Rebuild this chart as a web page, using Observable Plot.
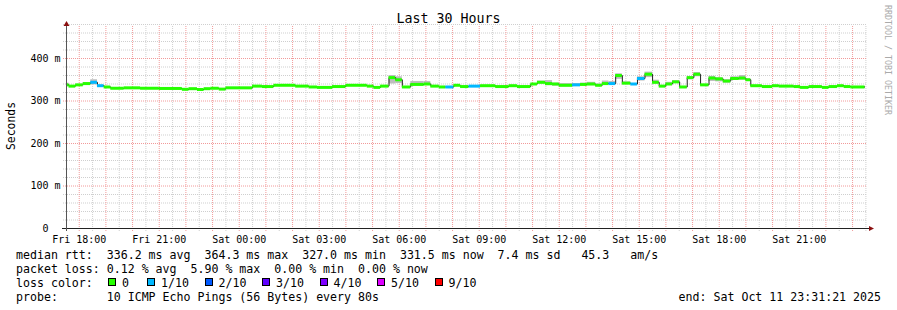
<!DOCTYPE html>
<html><head><meta charset="utf-8">
<script src="https://cdn.jsdelivr.net/npm/d3@7"></script>
<script src="https://cdn.jsdelivr.net/npm/@observablehq/plot@0.6"></script>
<style>
body{margin:0;background:#fff}
#wrap{position:relative;width:897px;height:310px;background:#fff;font-family:"DejaVu Sans Mono",monospace;color:#000;overflow:hidden}
#chart{position:absolute;left:0;top:0}
.t{position:absolute;white-space:pre;line-height:14px;font-size:11.6px}
.box{position:absolute;width:6px;height:6px;border:1px solid #000}
</style></head><body><div id="wrap"><div id="chart"></div></div>
<script>
// ---- text ----
const title = "Last 30 Hours";
const yLabel = "Seconds";
const credit = "RRDTOOL / TOBI OETIKER";
const startTime = "2025-10-10T17:31:21Z";
const endTime = "2025-10-11T23:31:21Z";
const endLabel = "end: Sat Oct 11 23:31:21 2025";
const probeText = "10 ICMP Echo Pings (56 Bytes) every 80s";

// ---- axis ticks ----
const yTicks = [0, 100, 200, 300, 400];
const yMax = 480;

// ---- series: median rtt per step (ms), loss class, smoke range ----
const segStart = [
"10 17:33","10 17:37","10 17:52","10 18:09","10 18:26","10 18:41","10 18:56","10 19:11","10 19:41","10 20:18",
"10 21:00","10 21:52","10 22:07","10 22:26","10 22:41","10 22:56","10 23:15","10 23:30","11 00:30","11 00:52",
"11 01:18","11 02:07","11 02:37","11 02:56","11 03:30","11 04:00","11 04:48","11 05:03","11 05:18","11 05:37",
"11 05:52","11 06:07","11 06:26","11 06:56","11 07:11","11 07:30","11 07:45","11 08:03","11 08:18","11 08:37",
"11 09:03","11 09:37","11 10:07","11 10:26","11 10:56","11 11:11","11 11:29","11 11:45","11 12:00","11 12:30",
"11 12:48","11 13:03","11 13:22","11 13:37","11 13:52","11 14:07","11 14:22","11 14:41","11 14:56","11 15:13",
"11 15:30","11 15:45","11 16:00","11 16:15","11 16:31","11 16:48","11 17:03","11 17:18","11 17:37","11 17:52",
"11 18:09","11 18:26","11 18:45","11 19:00","11 19:11","11 19:37","11 20:00","11 20:15","11 20:48","11 21:03",
"11 21:22","11 21:52","11 22:07","11 22:26","11 22:41","11 22:56"];
const lastEnd = "11 23:28";
const median = [
338,335,338,341,344,336,333,330,331,330,
329.5,327.5,329,327,329,330,328,331,335,334,
337,335,333,332,334,337,335,332,335,355,
350,333,339,340,335,333,333,337,334,335,
336,334,336,334,340,344,341,340,337,338,
339,340,337,341,341,360,342,340,353,363,
344,335,340,345,333,355,363,338,354,352,
347,353,354,350,336,334,336,335,334,332,
334,332,334,336,334,333];
const lossClass = [
0,0,0,0,1,1,0,0,0,0,
0,0,0,0,0,0,0,0,0,0,
0,0,0,0,0,0,0,0,0,0,
0,0,0,0,0,0,1,0,0,1,
0,0,0,0,0,0,0,0,0,1,
0,0,0,0,1,0,0,1,1,0,
0,0,0,0,0,0,0,0,0,0,
0,0,0,0,0,0,0,0,0,0,
0,0,0,0,0,0];
const smokeLo = [
335,null,null,338,338,null,null,null,null,null,
null,null,null,null,null,null,null,null,null,null,
null,null,null,null,null,null,null,null,null,340,
341,null,335,337,null,null,null,null,null,null,
null,null,null,null,null,340,336,335,333,334,
335,336,334,338,338,351,339,null,347,355,
340,null,337,342,null,350,357,null,346,345,
342,349,349,347,null,null,null,null,null,null,
null,null,null,null,null,null];
const smokeHi = [
342,null,null,343,350,null,null,null,null,null,
null,null,null,null,null,null,null,null,null,null,
null,null,null,null,null,null,null,null,null,360,
357,null,346,346,null,null,null,null,null,null,
null,null,null,null,null,347,348,342,341,341,
342,344,340,347,346,364,345,null,357,368,
349,null,344,348,null,357,367,null,358,355,
350,357,360,352,null,null,null,null,null,null,
null,null,null,null,null,null];

// ---- legend ----
const lossNames = ["0","1/10","2/10","3/10","4/10","5/10","9/10"];
const lossColors = ["#26ff00","#00b8ff","#0059ff","#5e00ff","#7e00ff","#dd00ff","#ff0000"];
const rttStats = [336.2, 364.3, 327.0, 331.5];
const statNames = ["avg","max","min","now"];
const rttSd = 7.4;
const amPerS = 45.3;
const lossStats = [0.12, 5.90, 0.00, 0.00];

// ---- build ----
const parse = d3.utcParse("%Y-%m-%d %H:%M");
const T = s => parse("2025-10-" + s);
const t0 = new Date(startTime), t1 = new Date(endTime);
const segs = segStart.map((s, i) => ({
  start: T(s),
  end: T(i + 1 < segStart.length ? segStart[i + 1] : lastEnd),
  median: median[i],
  color: lossColors[lossClass[i]],
  lo: smokeLo[i], hi: smokeHi[i]
}));
const stepPts = segs.map(d => ({t: d.start, v: d.median}))
  .concat([{t: segs[segs.length - 1].end, v: segs[segs.length - 1].median}]);
const hours = d3.utcHour.range(t0, t1);
const halfHours = d3.utcMinute.every(30).range(t0, t1).filter(d => d.getUTCMinutes() === 30);
const minorY = d3.range(20, yMax + 1, 20).filter(v => v % 100 !== 0);
const majorY = yTicks.filter(v => v > 0);
const xTicks = d3.utcHour.every(3).range(t0, t1);
const fmt = d3.utcFormat("%a %H:%M");

const MAJ = "#f29a9a", MIN = "#cfcfcf";
const svg = Plot.plot({
  width: 897, height: 250,
  marginLeft: 66, marginRight: 31, marginTop: 24, marginBottom: 22,
  style: {fontFamily: "DejaVu Sans Mono", fontSize: "10px", background: "transparent", color: "#000"},
  x: {type: "utc", domain: [t0, t1]},
  y: {domain: [0, yMax]},
  marks: [
    Plot.ruleY(minorY, {stroke: MIN, strokeDasharray: "1,1", insetLeft: -3}),
    Plot.ruleX(halfHours, {stroke: MIN, strokeDasharray: "1,1", insetBottom: -3, insetTop: 2}),
    Plot.ruleX(hours, {stroke: MAJ, strokeDasharray: "1,1", insetBottom: -3, insetTop: 2}),
    Plot.ruleY(majorY, {stroke: MAJ, strokeDasharray: "1,1", insetLeft: -3}),
    Plot.rectY(segs.filter(d => d.lo != null), {x1: "start", x2: "end", y1: "lo", y2: "hi", fill: "#bdbdbd"}),
    Plot.line(stepPts, {x: "t", y: "v", stroke: "#202020", strokeWidth: 1, curve: "step-after"}),
    Plot.ruleY(segs, {x1: "start", x2: "end", y: "median", stroke: "color", strokeWidth: 3}),
    Plot.axisY({ticks: yTicks, tickSize: 0, tickPadding: 6, label: null,
      tickFormat: d => d === 0 ? "0\u00a0\u00a0" : `${d} m`}),
    Plot.axisX({ticks: xTicks, tickSize: 0, tickPadding: 7, label: null, tickFormat: fmt})
  ]
});
document.getElementById("chart").appendChild(svg);

// axis lines with arrows
const xs = svg.scale("x"), ys = svg.scale("y");
const xL = xs.range[0], xR = xs.range[1], yB = ys.range[0], yT = ys.range[1];
const g = d3.select(svg).append("g");
g.append("line").attr("x1", xL - 4).attr("x2", xR + 4).attr("y1", yB + 0.5).attr("y2", yB + 0.5).attr("stroke", "#222");
g.append("line").attr("x1", xL + 0.5).attr("x2", xL + 0.5).attr("y1", yB + 3).attr("y2", yT - 1).attr("stroke", "#555");
g.append("path").attr("d", `M${xL - 2.5},${yT + 2}L${xL + 3.5},${yT + 2}L${xL + 0.5},${yT - 3}Z`).attr("fill", "#8b1010");
g.append("path").attr("d", `M${xR + 3},${yB - 2}L${xR + 3},${yB + 3}L${xR + 8},${yB + 0.5}Z`).attr("fill", "#8b1010");

// text overlays
const wrap = document.getElementById("wrap");
function add(html, css, cls = "t") {
  const d = document.createElement("div");
  d.className = cls; d.textContent = html; Object.assign(d.style, css); wrap.appendChild(d); return d;
}
add(title, {left: "0px", width: "897px", textAlign: "center", top: "11px", fontSize: "13.3px", lineHeight: "16px"});
add(yLabel, {left: "11px", top: "126px", transform: "translate(-50%,-50%) rotate(-90deg)", fontSize: "11.4px"});
add(credit, {left: "887px", top: "60px", transform: "translate(-50%,-50%) rotate(90deg)", fontSize: "8.3px", color: "#aaa", lineHeight: "9px"});

const f1 = v => v.toFixed(1), f2 = v => v.toFixed(2);
const line1 = "median rtt:  " + rttStats.map((v, i) => `${f1(v)} ms ${statNames[i]}`).join("  ")
  + `  ${f1(rttSd)} ms sd   ${f1(amPerS)}   am/s`;
const line2 = "packet loss: " + lossStats.map((v, i) => `${f2(v)} % ${statNames[i]}`).join("  ");
add(line1, {left: "16px", top: "248px"});
add(line2, {left: "16px", top: "262px"});
add("loss color:", {left: "16px", top: "276px"});
add("probe:       " + probeText, {left: "16px", top: "290px"});
add(endLabel, {right: "16px", top: "290px"});
lossNames.forEach((n, i) => {
  const bx = i === 0 ? 108 : 147 + 57.5 * (i - 1);
  const b = document.createElement("div");
  b.className = "box"; b.style.left = bx + "px"; b.style.top = "278px"; b.style.background = lossColors[i];
  wrap.appendChild(b);
  add(n, {left: (bx + 14) + "px", top: "276px"});
});
</script></body></html>
